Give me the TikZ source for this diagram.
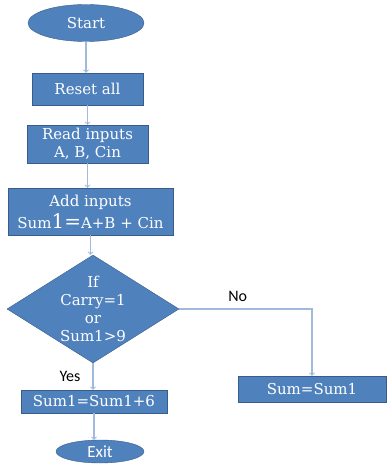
\documentclass[tikz,border=0pt]{standalone}
\usepackage{fontspec}
\setmainfont{DejaVu Serif}
\newfontfamily\lblfont{Carlito}
\usetikzlibrary{shapes.geometric}
\definecolor{boxblue}{RGB}{79,129,189}
\definecolor{boxedge}{RGB}{56,93,138}
\definecolor{arrowblue}{RGB}{160,185,220}

\begin{document}
\begin{tikzpicture}[x=1pt,y=-1pt,
	blk/.style={draw=boxedge,fill=boxblue,text=white,inner sep=0pt,align=center,font=\fontsize{15}{18}\selectfont},
	term/.style={blk,ellipse},
	decide/.style={blk,diamond},
	arr/.style={->,draw=arrowblue,line width=1.1pt},
	lbl/.style={inner sep=1pt,font=\lblfont\fontsize{16}{18}\selectfont}]
	\useasboundingbox (0,0) rectangle (388,465);
	\node[term,minimum width=116pt,minimum height=37pt] (start) at (86,23) {Start}; %Start
	\node[blk,minimum width=111pt,minimum height=32pt] (reset) at (87.5,89) {Reset all};
	\node[blk,minimum width=121pt,minimum height=38pt] (read) at (87.5,144) {Read inputs\\A, B, Cin};
	\node[blk,minimum width=165pt,minimum height=47pt] (add) at (90.5,211.5) {Add inputs\\[4pt]Sum{\fontsize{20}{20}\selectfont 1=}A+B + Cin};
	\node[decide,minimum width=172pt,minimum height=108pt] (cond) at (93,309) {}; %Entscheidung
	\node[align=center,text=white,font=\fontsize{15}{18}\selectfont] (condtxt) at (cond.center) {If\\Carry=1\\or\\Sum1>9};
	\node[blk,minimum width=146pt,minimum height=23pt] (sumsix) at (94,401.5) {Sum1=Sum1+6};
	\node[term,minimum width=88pt,minimum height=23pt,font=\lblfont\fontsize{17}{18}\selectfont] (exit) at (100,451.5) {Exit}; %Exit
	\node[blk,minimum width=148pt,minimum height=26pt] (sumbox) at (312,389) {Sum=Sum1};
	% Pfeile
	\draw[arr] (start.south) -- (start.south |- reset.north);
	\draw[arr] (reset.south) -- (reset.south |- read.north);
	\draw[arr] (read.south) -- (read.south |- add.north);
	\draw[arr] (add.south) -- (add.south |- cond.north);
	\draw[arr] (cond.south) -- (cond.south |- sumsix.north) node[lbl,pos=0.5,left=11pt] (yes) {Yes};
	\draw[arr] (sumsix.south) -- (sumsix.south |- exit.north);
	\draw[arr] (cond.east) -| (sumbox.north) node[lbl,pos=0.22,above=6pt] (no) {No};
\end{tikzpicture}
\end{document}
